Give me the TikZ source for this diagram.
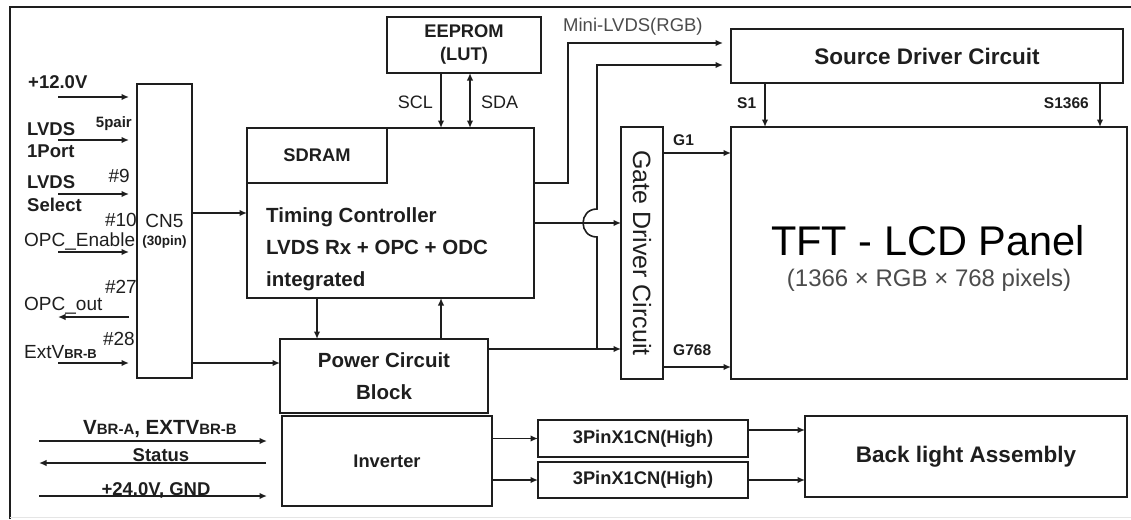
\documentclass[tikz,border=0pt]{standalone}
\usepackage{fontspec}
\setmainfont{Liberation Sans}
\usepackage{graphicx}
\usetikzlibrary{arrows.meta,positioning}
\definecolor{LineGray}{RGB}{30,30,30}
\definecolor{TextGray}{RGB}{75,75,75}
\newcommand{\vsub}[1]{{\fontsize{13}{13}\selectfont #1}}
\newcommand{\vsubbig}[1]{{\fontsize{15}{15}\selectfont #1}}
\tikzset{
  blk/.style={draw=LineGray,line width=1.8pt,inner sep=0pt,outer sep=0pt,
    align=center,text=LineGray,font=\bfseries\fontsize{18.3}{23}\selectfont},
  bigblk/.style={blk,font=\bfseries\fontsize{22.5}{27}\selectfont},
  lbl/.style={inner sep=0pt,text=LineGray,font=\bfseries\fontsize{18.5}{22}\selectfont},
  plainlbl/.style={lbl,font=\fontsize{19}{22}\selectfont},
  pinlbl/.style={lbl,font=\bfseries\fontsize{15.5}{18}\selectfont},
  line/.style={line width=1.6pt,LineGray},
  arrow/.style={line,-{Latex[length=7.5pt,width=6.5pt]}},
  dblarrow/.style={line,{Latex[length=7.5pt,width=6.5pt]}-{Latex[length=7.5pt,width=6.5pt]}}
}
\begin{document}
\begin{tikzpicture}[x=1pt,y=-1pt]
      \useasboundingbox (0,0) rectangle (1131,519);
      % frame
      \draw[line,line width=1.8pt] (10,519) |- (1131,7);
      \draw[black!10,line width=1pt] (10,517) -- (1131,517);
      % blocks
      \node[blk,minimum width=55pt,minimum height=294pt,font=\fontsize{19}{20}\selectfont] (cn5) at (164.5,231) {CN5\\[-2pt]{\bfseries\fontsize{13.5}{14}\selectfont(30pin)}};
      \node[blk,minimum width=287pt,minimum height=170pt] (tcon) at (390.5,213) {};
      \node[blk,minimum width=140pt,minimum height=55pt,anchor=north west] (sdram) at (tcon.north west) {SDRAM};
      \node[lbl,anchor=north west,align=left,font=\bfseries\fontsize{20.5}{32}\selectfont] (tctext) at (266,207) {Timing Controller\\LVDS Rx + OPC + ODC\\integrated};
      \node[blk,above=55pt of tcon.north,xshift=73.5pt,minimum width=154pt,minimum height=56pt] (eeprom) {EEPROM\\(LUT)};
      \node[blk,below=41pt of tcon.south,xshift=-6.5pt,minimum width=208pt,minimum height=74pt,font=\bfseries\fontsize{20.5}{32}\selectfont] (power) {Power Circuit\\Block};
      \node[blk,below=3pt of power.south,xshift=3pt,minimum width=210pt,minimum height=90pt] (inverter) {Inverter};
      \node[blk,minimum width=42pt,minimum height=252pt,font=\fontsize{25}{28}\selectfont] (gate) at (642,253) {\rotatebox{-90}{Gate Driver Circuit}};
      \node[blk,right=68pt of gate,minimum width=396pt,minimum height=252pt] (panel) {};
      \node[bigblk,above=44pt of panel.north west,anchor=south west,minimum width=392pt,minimum height=54pt] (source) {Source Driver Circuit};
      \node[blk,minimum width=210pt,minimum height=37pt] (pin1) at (643,438.5) {3PinX1CN(High)};
      \node[blk,below=5pt of pin1,minimum width=210pt,minimum height=36pt] (pin2) {3PinX1CN(High)};
      \node[bigblk,minimum width=322pt,minimum height=81pt] (backlight) at (966,456.5) {Back light Assembly};
      % panel texts
      \node[inner sep=0pt,text=black,font=\fontsize{41.5}{45}\selectfont,anchor=base] (tfttitle) at (928,255) {TFT - LCD Panel};
      \node[inner sep=0pt,text=TextGray,font=\fontsize{24}{28}\selectfont,anchor=base] (tftsub) at (929,286) {(1366 × RGB × 768 pixels)};
      % left labels
      \node[lbl,anchor=base west] (v12lbl) at (28,88) {+12.0V};
      \node[lbl,anchor=base west] (lvdsa) at (27,135) {LVDS};
      \node[lbl,anchor=base west] (portlbl) at (27,157) {1Port};
      \node[pinlbl,font=\bfseries\fontsize{15}{18}\selectfont,anchor=base east] (pairlbl) at (132,127) {5pair};
      \node[lbl,anchor=base west] (lvdsb) at (27,188) {LVDS};
      \node[lbl,anchor=base west] (sellbl) at (27,211) {Select};
      \node[plainlbl,anchor=base east] (p9) at (130,182) {\#9};
      \node[plainlbl,anchor=base east] (p10) at (137,226) {\#10};
      \node[plainlbl,anchor=base west] (opcelbl) at (24,246) {OPC\_Enable};
      \node[plainlbl,anchor=base east] (p27) at (137,293) {\#27};
      \node[plainlbl,anchor=base west] (opcolbl) at (24,310) {OPC\_out};
      \node[plainlbl,anchor=base east] (p28) at (135,345) {\#28};
      \node[plainlbl,anchor=base west] (extvlbl) at (24,358) {ExtV{\bfseries\vsub{BR-B}}};
      % inputs to CN5
      \foreach \y/\n in {97/v12,140/lvds,194/sel,252/opce,363/extv} {
        \coordinate (\n) at (58,\y);
        \draw[arrow,shorten >=8pt] (\n) -- (\n -| cn5.west);
      }
      \coordinate (opco) at (58,317);
      \draw[arrow,shorten <=8pt] (opco -| cn5.west) -- (opco);
      \draw[arrow] (cn5.east |- tcon.west) -- (tcon.west);
      \draw[arrow] (cn5.east |- extv) -- (extv -| power.west);
      % EEPROM bus
      \coordinate (scl) at ([xshift=-23pt]eeprom.south);
      \coordinate (sda) at ([xshift=6pt]eeprom.south);
      \draw[arrow] (scl) -- (scl |- tcon.north);
      \draw[dblarrow] (sda) -- (sda |- tcon.north);
      \node[plainlbl,font=\fontsize{18}{22}\selectfont,anchor=base east] (scllbl) at (433,108) {SCL};
      \node[plainlbl,font=\fontsize{18}{22}\selectfont,anchor=base west] (sdalbl) at (481,108) {SDA};
      % timing controller <-> power
      \coordinate (tcdn) at ([xshift=-73.5pt]tcon.south);
      \coordinate (pwup) at ([xshift=50.5pt]tcon.south);
      \draw[arrow] (tcdn) -- (tcdn |- power.north);
      \draw[arrow] (pwup |- power.north) -- (pwup);
      % to source driver
      \coordinate (mlvds) at (sdram.south -| tcon.east);
      \draw[arrow,shorten >=8pt] (mlvds) -- ++(34,0) |- ([yshift=13pt]source.west);
      \node[plainlbl,text=TextGray,font=\fontsize{18.5}{22}\selectfont,anchor=base west] (mlvdslbl) at (563,32) {Mini-LVDS(RGB)};
      \coordinate (jct) at (597,349);
      \draw[arrow,shorten >=8pt] (jct) -- (597,237) to[out=180,in=180,looseness=1.7] (597,209) |- ([yshift=-9pt]source.west);
      % to gate driver
      \coordinate (tcg) at ([yshift=-10pt]tcon.east);
      \coordinate (pwg) at ([yshift=-10pt]power.north east);
      \draw[arrow] (tcg) -- (tcg -| gate.west);
      \draw[arrow] (pwg) -- (pwg -| gate.west);
      % gate and source lines
      \coordinate (g1) at ([yshift=-26pt]gate.north east);
      \coordinate (g768) at ([yshift=12pt]gate.south east);
      \draw[arrow] (g1) -- (g1 -| panel.west);
      \draw[arrow] (g768) -- (g768 -| panel.west);
      \node[pinlbl,anchor=base west] (g1lbl) at (673,145) {G1};
      \node[pinlbl,anchor=base west] (g768lbl) at (673,355) {G768};
      \coordinate (s1) at ([xshift=34pt]source.south west);
      \coordinate (s1366) at ([xshift=-23pt]source.south east);
      \draw[arrow] (s1) -- (s1 |- panel.north);
      \draw[arrow] (s1366) -- (s1366 |- panel.north);
      \node[pinlbl,anchor=base west] (s1lbl) at (737,108) {S1};
      \node[pinlbl,anchor=base east] (s1366lbl) at (1089,108) {S1366};
      % inverter side
      \coordinate (vbr) at (39,441);
      \coordinate (stat) at (39,463);
      \coordinate (p24) at (39,496);
      \draw[arrow,shorten >=15pt] (vbr) -- (vbr -| inverter.west);
      \draw[arrow,shorten <=16pt] (stat -| inverter.west) -- (stat);
      \draw[arrow,shorten >=15pt] (p24) -- (p24 -| inverter.west);
      \node[lbl,font=\bfseries\fontsize{20.5}{24}\selectfont,anchor=base] (vbrlbl) at (160,434) {V\vsubbig{BR-A}, EXTV\vsubbig{BR-B}};
      \node[lbl,anchor=base] (statlbl) at (161,461) {Status};
      \node[lbl,anchor=base] (p24lbl) at (156,495) {+24.0V, GND};
      \draw[arrow] (inverter.east |- pin1) -- (pin1);
      \draw[arrow] (inverter.east |- pin2) -- (pin2);
      \coordinate (bl1) at ([yshift=8.5pt]pin1.east);
      \draw[arrow] (bl1) -- (bl1 -| backlight.west);
      \draw[arrow] (pin2.east) -- (pin2.east -| backlight.west);
    \end{tikzpicture}
\end{document}
